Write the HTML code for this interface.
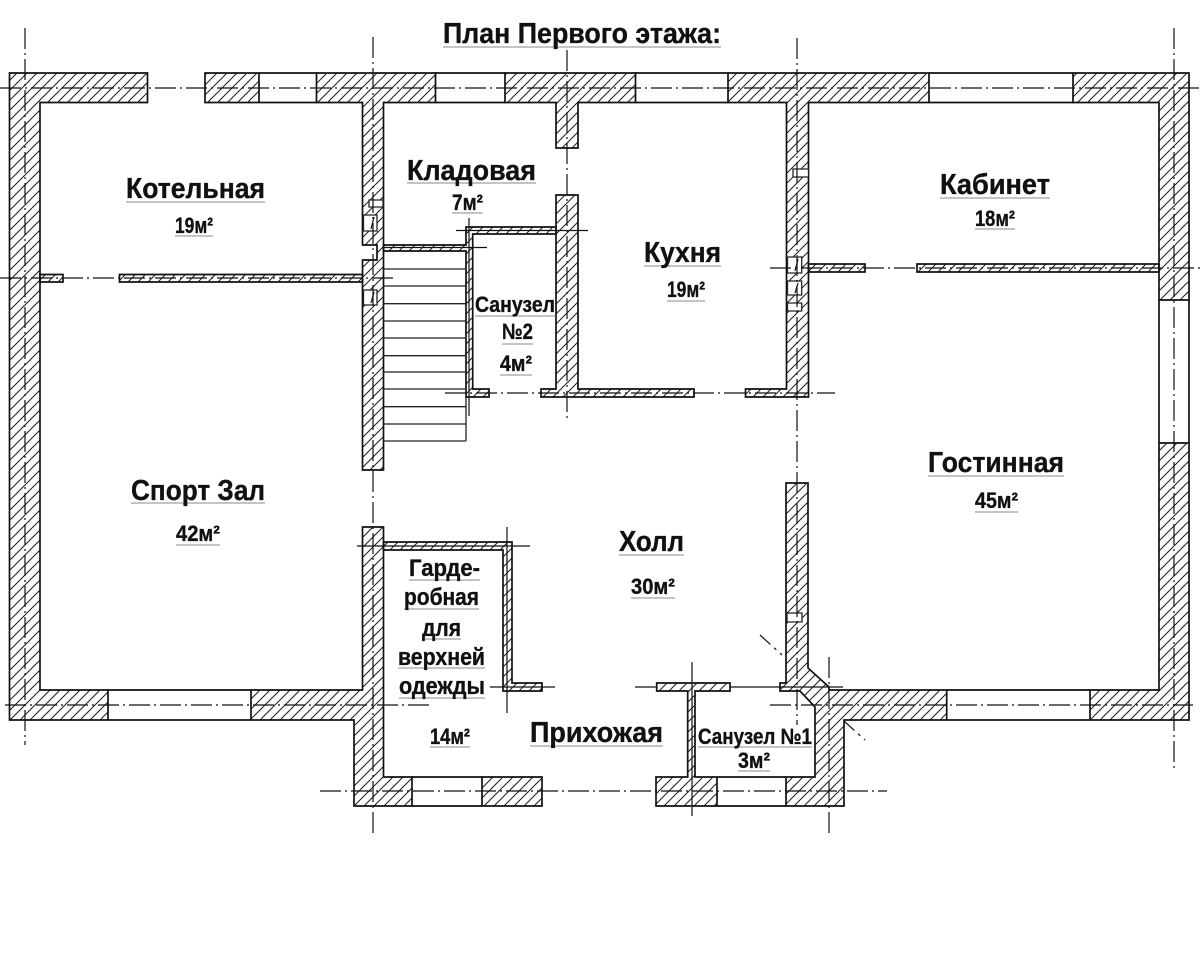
<!DOCTYPE html>
<html lang="ru"><head><meta charset="utf-8"><title>План Первого этажа</title>
<style>
html,body{margin:0;padding:0;background:#fff}
svg{display:block}
.w{fill:url(#h);stroke:#111;stroke-width:1.7;stroke-linejoin:miter}
.l{stroke:#111;stroke-width:1.7;fill:none}
.s{stroke:#222;stroke-width:1.3;fill:none}
.a{stroke:#111;stroke-width:1.2;fill:none;stroke-dasharray:21 4 2 4}
.t{font-family:"Liberation Sans",sans-serif;font-weight:bold;fill:#111;stroke:#111;stroke-width:.35}
.b{font-size:29px}.m{font-size:22px}
.u{stroke:#b0b0b0;stroke-width:1.5}
</style></head><body>
<svg width="1200" height="957" viewBox="0 0 1200 957" xmlns="http://www.w3.org/2000/svg">
<defs>
<pattern id="h" patternUnits="userSpaceOnUse" width="10" height="10">
<path d="M-2 2L2 -2M0 10L10 0M8 12L12 8" stroke="#1c1c1c" stroke-width="1"/>
</pattern>
</defs>
<rect width="1200" height="957" fill="#fff"/>

<!-- walls -->
<path class="w" d="M9.5 73H147.5V102.5H40V690H108V720H9.5Z"/>
<path class="w" d="M205 73H259V102.5H205Z"/>
<path class="w" d="M316.5 73H435.5V102.5H383.5V470H362.5V260H377V245H362.5V102.5H316.5Z"/>
<path class="w" d="M505 73H635.5V102.5H578V148H556V102.5H505Z"/>
<path class="w" d="M728 73H929V102.5H808.5V397H745.5V389H786.5V102.5H728Z"/>
<path class="w" d="M1073 73H1189V300H1159V102.5H1073Z"/>
<path class="w" d="M1159 443H1189V720H1090V690H1159Z"/>
<path class="w" d="M556 195H578V389H694V397H541V389H556Z"/>
<path class="w" d="M383.5 245H466V227H556V234H472.7V389H489V397H466V251H383.5Z"/>
<path class="w" d="M40 274.5H63V282H40Z"/>
<path class="w" d="M119.5 274.5H362.5V282H119.5Z"/>
<path class="w" d="M808.5 264H865V272H808.5Z"/>
<path class="w" d="M917 264H1159V272H917Z"/>
<path class="w" d="M251 690H362.5V527H383.5V777H412V806H354V720H251Z"/>
<path class="w" d="M383.5 542H512V683H542V691H503V550H383.5Z"/>
<path class="w" d="M482 777H542V806H482Z"/>
<path class="w" d="M656.7 683H730V691H695V777H717V806H656V777H687.7V691H656.7Z"/>
<path class="w" d="M786 483H808V668L829 687V690H946.7V720H844V806H786V777H815V707L800 691H780V683H786Z"/>

<!-- window lines -->
<path class="l" d="M259 73H316.5M259 102.5H316.5M435.5 73H505M435.5 102.5H505M635.5 73H728M635.5 102.5H728M929 73H1073M929 102.5H1073"/>
<path class="l" d="M1159 300V443M1189 300V443"/>
<path class="l" d="M108 690H251M108 720H251M946.7 690H1090M946.7 720H1090"/>
<path class="l" d="M412 777H482M412 806H482M717 777H786M717 806H786"/>

<!-- stairs -->
<path class="s" d="M383.5 269H466M383.5 286H466M383.5 303.7H466M383.5 321H466M383.5 338H466M383.5 355.7H466M383.5 372H466M383.5 389H466M383.5 406.7H466M383.5 424H466M383.5 441H466M466 397V441"/>

<!-- fixtures -->
<path class="s" style="fill:#fff" d="M369 200H383V207H369ZM363.5 215H377V231H363.5ZM363.5 290H377V305H363.5ZM793 169H808.5V177H793ZM787.5 257H801.7V273H787.5ZM787.5 281H801.7V295H787.5ZM787.5 303H801.7V311H787.5ZM787 613H802V622H787Z"/>
<path class="s" d="M374 217L371 229M374 292L371 303M798 259L795 271M798 283L795 293"/>

<!-- axes -->
<path class="a" d="M0 88H1200"/>
<path class="a" d="M0 278H394"/>
<path class="a" d="M770 268H1200"/>
<path class="a" d="M445 393H835"/>
<path class="a" d="M5 705H432"/>
<path class="a" d="M770 705H1193"/>
<path class="a" d="M320 791H887"/>
<path class="a" d="M25 28V745"/>
<path class="a" d="M373 37V836"/>
<path class="a" d="M567 50V420"/>
<path class="a" d="M797 38V725"/>
<path class="a" d="M829 657V836"/>
<path class="a" d="M1174 28V772"/>
<path class="a" d="M760 635L782 655" style="stroke-dasharray:14 5 3 5"/>
<path class="a" d="M844 721L865 740" style="stroke-dasharray:14 5 3 5"/>

<!-- thin construction lines -->
<path class="l" style="stroke-width:1.2" d="M456 230.5H588M383.5 247.5H487M357 546H530M490 687H555M635 687H656M730 687H843M692 662V816M469 218V416M507 527V713"/>

<!-- labels: underlines -->
<path class="u" d="M443 47H721M126 202H265M175 236H213M407 183H536M452 213H483M644 266H721M667 301H705M940 198H1050M975 229H1015M475 316H555M502 344H533M500 375H532M131 503H265M176 545H220M409 580H480M404 609H479M422 639H461M398 668H485M399 698H485M430 747H470M619 555H684M631 598H675M530 746H663M698 747H812M738 771H770M928 476H1064M975 512H1018"/>

<g class="t">
<text class="b" x="443" y="43" textLength="278" lengthAdjust="spacingAndGlyphs">План Первого этажа:</text>
<text class="b" x="126" y="198" textLength="139" lengthAdjust="spacingAndGlyphs">Котельная</text>
<text class="m" x="175" y="233" textLength="38" lengthAdjust="spacingAndGlyphs">19м²</text>
<text class="b" x="407" y="180" textLength="129" lengthAdjust="spacingAndGlyphs">Кладовая</text>
<text class="m" x="452" y="210" textLength="31" lengthAdjust="spacingAndGlyphs">7м²</text>
<text class="b" x="644" y="262" textLength="77" lengthAdjust="spacingAndGlyphs">Кухня</text>
<text class="m" x="667" y="297" textLength="38" lengthAdjust="spacingAndGlyphs">19м²</text>
<text class="b" x="940" y="194" textLength="110" lengthAdjust="spacingAndGlyphs">Кабинет</text>
<text class="m" x="975" y="226" textLength="40" lengthAdjust="spacingAndGlyphs">18м²</text>
<text class="m" x="475" y="312" textLength="80" lengthAdjust="spacingAndGlyphs">Санузел</text>
<text class="m" x="502" y="339" textLength="31" lengthAdjust="spacingAndGlyphs">№2</text>
<text class="m" x="500" y="371" textLength="32" lengthAdjust="spacingAndGlyphs">4м²</text>
<text class="b" x="131" y="500" textLength="134" lengthAdjust="spacingAndGlyphs">Спорт Зал</text>
<text class="m" x="176" y="541" textLength="44" lengthAdjust="spacingAndGlyphs">42м²</text>
<text class="m" x="409" y="576" textLength="71" lengthAdjust="spacingAndGlyphs" style="font-size:24px">Гарде-</text>
<text class="m" x="404" y="605" textLength="75" lengthAdjust="spacingAndGlyphs" style="font-size:24px">робная</text>
<text class="m" x="422" y="636" textLength="39" lengthAdjust="spacingAndGlyphs" style="font-size:24px">для</text>
<text class="m" x="398" y="665" textLength="87" lengthAdjust="spacingAndGlyphs" style="font-size:24px">верхней</text>
<text class="m" x="399" y="694" textLength="86" lengthAdjust="spacingAndGlyphs" style="font-size:24px">одежды</text>
<text class="m" x="430" y="744" textLength="40" lengthAdjust="spacingAndGlyphs">14м²</text>
<text class="b" x="619" y="551" textLength="65" lengthAdjust="spacingAndGlyphs">Холл</text>
<text class="m" x="631" y="594" textLength="44" lengthAdjust="spacingAndGlyphs">30м²</text>
<text class="b" x="530" y="742" textLength="133" lengthAdjust="spacingAndGlyphs">Прихожая</text>
<text class="m" x="698" y="744" textLength="114" lengthAdjust="spacingAndGlyphs">Санузел №1</text>
<text class="m" x="738" y="768" textLength="32" lengthAdjust="spacingAndGlyphs">3м²</text>
<text class="b" x="928" y="472" textLength="136" lengthAdjust="spacingAndGlyphs">Гостинная</text>
<text class="m" x="975" y="508" textLength="43" lengthAdjust="spacingAndGlyphs">45м²</text>
</g>
</svg>
</body></html>
